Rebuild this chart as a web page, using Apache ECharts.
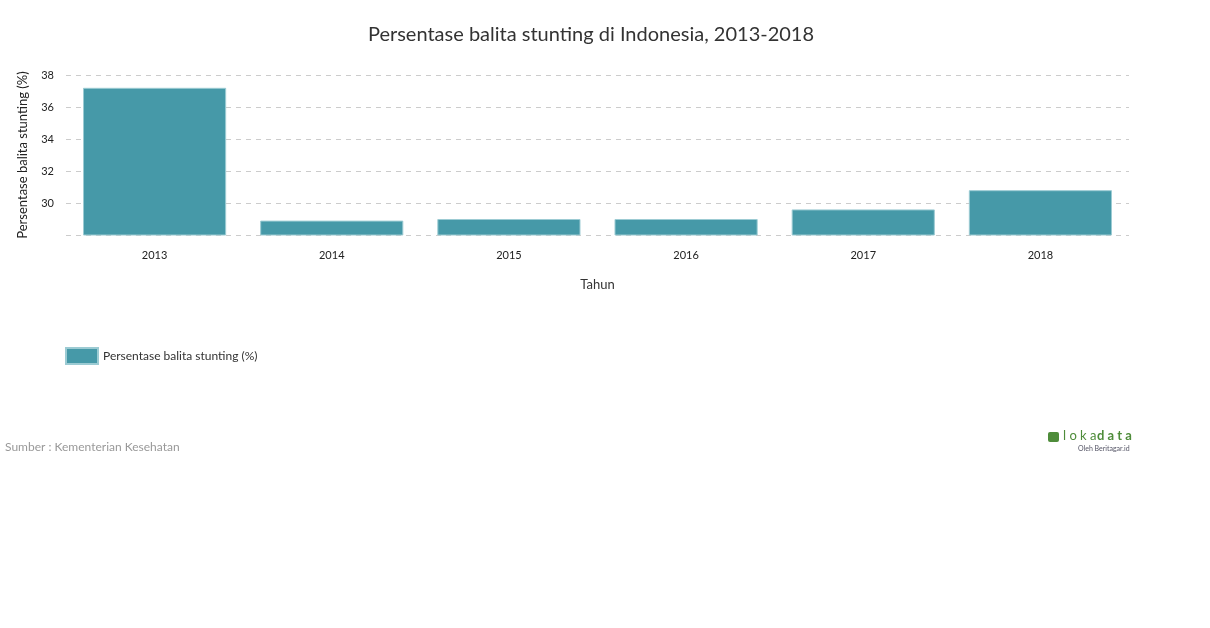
<!DOCTYPE html>
<html><head><meta charset="utf-8">
<script src="https://cdn.jsdelivr.net/npm/echarts@6/dist/echarts.min.js"></script>
<style>html,body{margin:0;padding:0;background:#fff}#c{width:1210px;height:628px}</style>
</head><body><div id="c"></div>
<script>
var categories = ['2013','2014','2015','2016','2017','2018'];
var values = [37.2, 28.9, 29.0, 29.0, 29.6, 30.8];
var seriesName = 'Persentase balita stunting (%)';
var chart = echarts.init(document.getElementById('c'));
chart.setOption({
  animation:false,
  textStyle:{fontFamily:'Lato'},
  title:{text:'Persentase balita stunting di Indonesia, 2013-2018',left:586,top:20,textAlign:'center',
    textStyle:{fontFamily:'Lato',fontSize:20,fontWeight:'normal',color:'#333'}},
  grid:{left:66,right:81,top:75,bottom:393},
  legend:{left:60,top:342,itemWidth:32,itemHeight:16,itemGap:10,icon:'rect',
    textStyle:{fontFamily:'Lato',fontSize:12,color:'#333'},data:[seriesName]},
  xAxis:{type:'category',data:categories,name:'Tahun',nameLocation:'middle',nameGap:43,
    nameTextStyle:{fontFamily:'Lato',fontSize:13,color:'#333'},
    axisLine:{show:false},axisTick:{show:false},
    axisLabel:{margin:15,fontFamily:'Lato',fontSize:11,color:'#222'}},
  yAxis:{type:'value',min:28,max:38,interval:2,name:'Persentase balita stunting (%)',nameLocation:'middle',nameGap:37,
    nameTextStyle:{fontFamily:'Lato',fontSize:13,color:'#222'},
    axisLine:{show:false},axisTick:{show:false},
    axisLabel:{margin:12,fontFamily:'Lato',fontSize:11,color:'#222',formatter:function(v){return v===28?'':v;}},
    splitLine:{lineStyle:{color:'#ccc',type:[5,5]}}},
  series:[{name:seriesName,type:'bar',data:values,barCategoryGap:'19.2%',
    itemStyle:{color:'#4699a8',borderColor:'#9ccbd3',borderWidth:1}}],
  graphic:[
    {type:'text',left:5,top:441,style:{text:'Sumber : Kementerian Kesehatan',fill:'#999',font:'12px Lato'}},
    {type:'rect',shape:{x:1048,y:432,width:11,height:10,r:2},style:{fill:'#4e8c3a'}},
    {type:'text',left:1063,top:429,style:{text:'l o k a',fill:'#4e8c3a',font:'13px Lato'}},
    {type:'text',left:1097,top:429,style:{text:'d a t a',fill:'#4e8c3a',font:'bold 13px Lato'}},
    {type:'text',left:1078,top:445,style:{text:'Oleh Beritagar.id',fill:'#556',font:'7px Lato'}}
  ]
});
</script></body></html>
